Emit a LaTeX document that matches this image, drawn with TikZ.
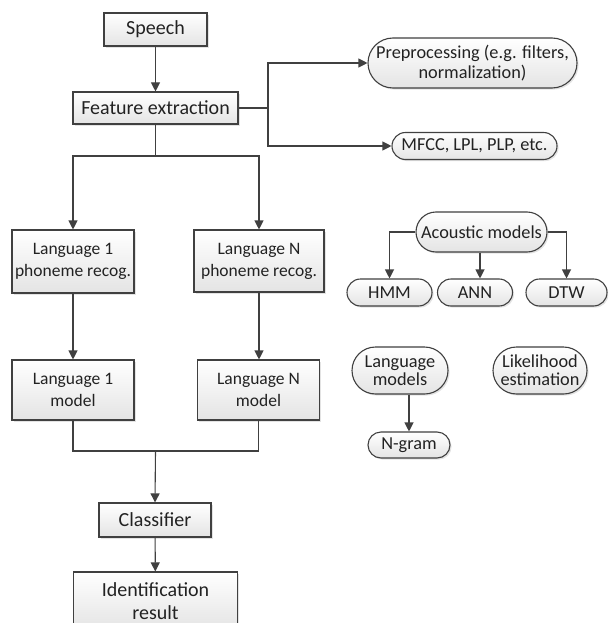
\documentclass[tikz,border=0pt]{standalone}
\usepackage{fontspec}
\setmainfont{Carlito}
\usetikzlibrary{arrows.meta,shapes.misc,shadows}
\definecolor{edge}{HTML}{404040}
\definecolor{ink}{HTML}{222222}
\definecolor{shadebot}{HTML}{E4E4E4}
\tikzset{
  base/.style={draw=edge, line width=1.1pt, top color=white, bottom color=shadebot,
    text=ink, inner sep=0pt, align=center,
    drop shadow={shadow xshift=1.6pt, shadow yshift=-1.6pt, opacity=0.22, fill=gray}},
  bigbox/.style={base, font=\fontsize{20}{23}\selectfont},
  langbox/.style={base, font=\fontsize{17.5}{22}\selectfont},
  pill/.style={base, rounded rectangle, font=\fontsize{18.3}{20.5}\selectfont},
  link/.style={draw=edge, line width=1.1pt},
  arr/.style={link, -{Triangle[length=9pt,width=9pt]}}
}
\begin{document}
\begin{tikzpicture}[x=1pt,y=-1pt]
\useasboundingbox (0,0) rectangle (608,623);
\clip (0,0) rectangle (608,623);
\fill[white] (0,0) rectangle (608,623);

% main pipeline
\node[bigbox, minimum width=103pt, minimum height=33pt] (speech) at (155.5,29.5) {Speech};
\node[bigbox, minimum width=165pt, minimum height=32pt] (feat) at (155.5,108) {Feature extraction};
\node[langbox, minimum width=122pt, minimum height=63pt] (l1p) at (73,261.5) {Language 1\\phoneme recog.};
\node[langbox, minimum width=130pt, minimum height=62pt] (lnp) at (259,261) {Language N\\phoneme recog.};
\node[langbox, minimum width=122pt, minimum height=60pt] (l1m) at (73,390) {Language 1\\model};
\node[langbox, minimum width=122pt, minimum height=60pt] (lnm) at (258.5,390) {Language N\\model};
\node[bigbox, minimum width=112pt, minimum height=34pt] (cls) at (155,520) {Classifier};
\node[bigbox, minimum width=164pt, minimum height=58pt] (ident) at (155.5,601) {Identification\\result};

% feature extraction options
\node[pill, minimum width=209pt, minimum height=50pt] (pre) at (472.5,63) {Preprocessing (e.g. filters,\\normalization)};
\node[pill, minimum width=165pt, minimum height=27pt] (mfcc) at (474.5,146) {MFCC, LPL, PLP, etc.};

% models
\node[pill, minimum width=131pt, minimum height=40pt] (ac) at (481.5,232) {Acoustic models};
\node[pill, minimum width=85pt, minimum height=27pt] (hmm) at (389.5,292.5) {HMM};
\node[pill, minimum width=75pt, minimum height=27pt] (ann) at (475,292.5) {ANN};
\node[pill, minimum width=81pt, minimum height=27pt] (dtw) at (566.5,292.5) {DTW};
\node[pill, font=\fontsize{18.3}{18}\selectfont, minimum width=96pt, minimum height=47pt] (lm) at (400,370.5) {Language\\models};
\node[pill, font=\fontsize{18.3}{18}\selectfont, minimum width=94pt, minimum height=47pt] (lik) at (540,370.5) {Likelihood\\estimation};
\node[pill, minimum width=82pt, minimum height=26pt] (ngram) at (409,445) {N-gram};

% junction points
\coordinate (split) at (268,108);
\coordinate (fork) at (155.5,156);
\coordinate (join) at (155.5,451);

% connectors
\draw[arr] (speech) -- (feat);
\draw[link] (feat.east) -- (split);
\draw[arr] (split) |- (pre.west);
\draw[arr] (split) |- (mfcc.west);

\draw[link] (feat.south) -- (fork);
\draw[arr] (fork) -| (l1p.north);
\draw[arr] (fork) -| (lnp.north);
\draw[arr] (l1p) -- (l1m);
\draw[arr] (lnp.south) -- (lnp.south |- lnm.north);
\draw[link] (l1m.south) |- (join);
\draw[link] (lnm.south) |- (join);
\draw[arr] (join) -- (cls.north);
\draw[arr] (cls) -- (ident);

\draw[arr] (ac.west) -| (hmm.north);
\draw[arr] (ac.south -| 480,0) -- (ann.north -| 480,0);
\draw[arr] (ac.east) -| (dtw.north);
\draw[arr] (ngram.north |- lm.south) -- (ngram.north);
\end{tikzpicture}
\end{document}
